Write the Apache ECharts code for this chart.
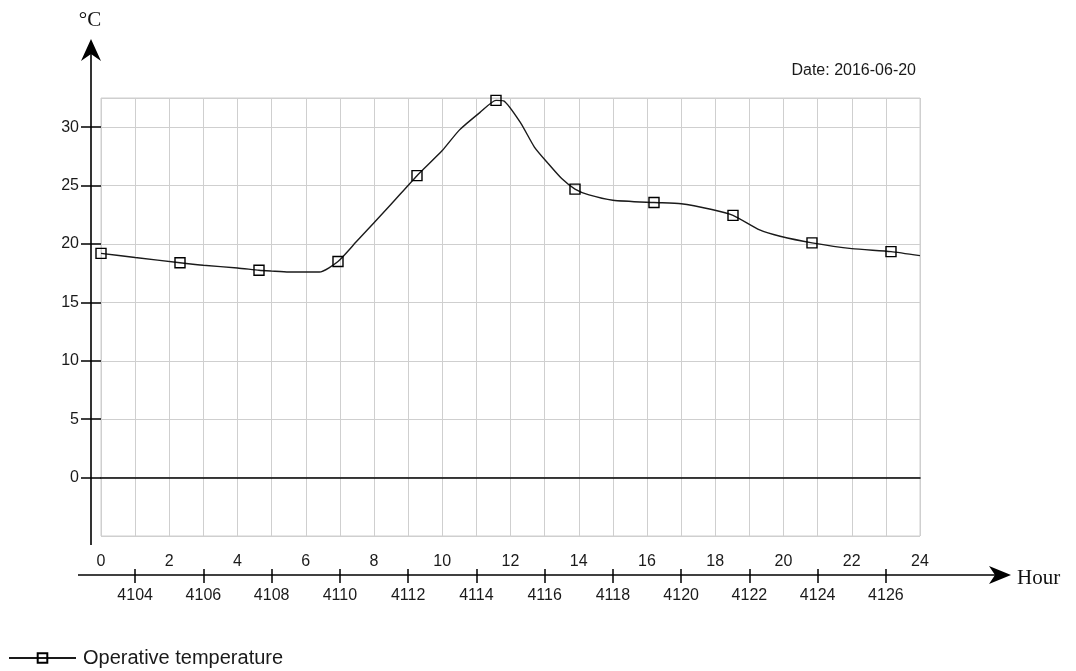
<!DOCTYPE html>
<html>
<head>
<meta charset="utf-8">
<title>Operative temperature</title>
<script src="https://cdn.jsdelivr.net/npm/echarts@6/dist/echarts.min.js"></script>
<style>
  html, body { margin: 0; padding: 0; background: #fff; }
  #chart { width: 1076px; height: 671px; }
</style>
</head>
<body>
<div id="chart"></div>
<script>
// Hourly operative temperature over one day (°C)
const seriesName = 'Operative temperature';
const dateText = 'Date: 2016-06-20';

// Curve readings between the marked samples
const curveHours = [1, 3, 4, 5, 5.5, 6.4, 7.5, 8.5, 10, 10.5, 11.1, 11.8, 12.3, 12.7, 13.1, 13.5, 14.3, 15, 17, 17.9, 19.3, 19.9, 22, 24];
const curveTemps = [18.85, 18.18, 17.95, 17.68, 17.6, 17.6, 20.25, 23.4, 28.0, 29.75, 31.25, 32.25, 30.35, 28.3, 26.9, 25.6, 24.2, 23.75, 23.45, 22.95, 21.2, 20.66, 19.6, 19.0];

// Marked samples (square symbols)
const markerHours = [0, 2.315, 4.63, 6.945, 9.26, 11.575, 13.89, 16.205, 18.52, 20.835, 23.15];
const markerTemps = [19.2, 18.4, 17.75, 18.5, 25.85, 32.3, 24.7, 23.55, 22.45, 20.1, 19.35];

// Axis tick labels
const yTickValues = [0, 5, 10, 15, 20, 25, 30];
const dayHourLabels = [0, 2, 4, 6, 8, 10, 12, 14, 16, 18, 20, 22, 24];
const yearHourLabels = [4104, 4106, 4108, 4110, 4112, 4114, 4116, 4118, 4120, 4122, 4124, 4126];
const yearHourAtDayStart = 4103;

// Layout
const G = { left: 101, right: 920, top: 98, bottom: 536 };
const axisGap = 10;       // y axis line sits left of the plot frame
const xAxisDrop = 39;     // hour axis sits below the plot frame
const textColor = '#1a1a1a';
const sans = 'Liberation Sans, Arial, sans-serif';
const serif = 'Liberation Serif, Times New Roman, serif';

// Merge the curve readings and the marked samples into one line
const points = [];
curveHours.forEach((h, i) => points.push({ value: [h, curveTemps[i]], symbol: 'none' }));
markerHours.forEach((h, i) => points.push({ value: [h, markerTemps[i]] }));
points.sort((a, b) => a.value[0] - b.value[0]);

const yearHourPositions = yearHourLabels.map(v => v - yearHourAtDayStart);

const chart = echarts.init(document.getElementById('chart'), null, { renderer: 'canvas' });

const gridLine = { show: true, lineStyle: { color: '#cfcfcf', width: 1 } };
const hidden = { show: false };

chart.setOption({
  animation: false,
  backgroundColor: '#fff',
  grid: {
    left: G.left, top: G.top, width: G.right - G.left, height: G.bottom - G.top,
    show: true, borderColor: '#cfcfcf', borderWidth: 1, containLabel: false
  },
  legend: {
    left: 8, top: 648, padding: 0, itemWidth: 67, itemHeight: 12, itemGap: 10,
    selectedMode: false,
    textStyle: { fontFamily: sans, fontSize: 20, color: textColor, padding: [0, 0, 0, 2] },
    data: [seriesName]
  },
  xAxis: [
    {
      // vertical grid lines and the zero line
      type: 'value', min: 0, max: 24, interval: 1,
      splitLine: gridLine,
      axisLine: { show: true, onZero: true, lineStyle: { color: '#000', width: 1.5 } },
      axisTick: hidden, axisLabel: hidden
    },
    {
      // hour-of-year ticks (below the line)
      type: 'value', min: 0, max: 24, position: 'bottom', offset: xAxisDrop,
      splitLine: hidden,
      axisLine: { show: false, onZero: false },
      axisTick: { show: true, inside: false, length: 8, customValues: yearHourPositions, lineStyle: { color: '#000', width: 1.5 } },
      axisLabel: {
        show: true, customValues: yearHourPositions, margin: 13,
        formatter: v => String(Math.round(v) + yearHourAtDayStart),
        fontFamily: sans, fontSize: 16, color: textColor
      }
    },
    {
      // hour-of-day labels (above the line)
      type: 'value', min: 0, max: 24, position: 'bottom', offset: xAxisDrop,
      splitLine: hidden,
      axisLine: { show: false, onZero: false },
      axisTick: { show: true, inside: true, length: 6, customValues: yearHourPositions, lineStyle: { color: '#000', width: 1.5 } },
      axisLabel: {
        show: true, inside: true, customValues: dayHourLabels, margin: 5,
        formatter: v => String(v),
        fontFamily: sans, fontSize: 16, color: textColor
      }
    }
  ],
  yAxis: [
    {
      // horizontal grid lines
      type: 'value', min: -5, max: 32.5, interval: 5,
      splitLine: gridLine,
      axisLine: { show: false, onZero: false }, axisTick: hidden, axisLabel: hidden
    },
    {
      // temperature labels and outer ticks
      type: 'value', min: -5, max: 32.5, position: 'left', offset: axisGap,
      splitLine: hidden,
      axisLine: { show: false, onZero: false },
      axisTick: { show: true, inside: false, length: 10, customValues: yTickValues, lineStyle: { color: '#000', width: 1.5 } },
      axisLabel: {
        show: true, customValues: yTickValues, margin: 12,
        fontFamily: sans, fontSize: 16, color: textColor
      }
    },
    {
      // inner half of the temperature ticks
      type: 'value', min: -5, max: 32.5, position: 'left', offset: axisGap,
      splitLine: hidden,
      axisLine: { show: false, onZero: false },
      axisTick: { show: true, inside: true, length: 10, customValues: yTickValues, lineStyle: { color: '#000', width: 1.5 } },
      axisLabel: hidden
    }
  ],
  series: [
    {
      name: seriesName,
      type: 'line',
      xAxisIndex: 0, yAxisIndex: 0,
      data: points,
      smooth: 0.2,
      symbol: 'rect',
      symbolSize: 10,
      showAllSymbol: true,
      lineStyle: { color: '#1a1a1a', width: 1.4 },
      itemStyle: { color: 'rgba(0,0,0,0)', borderColor: '#000', borderWidth: 1.4 },
      emphasis: { disabled: true },
      z: 5
    }
  ]
});

// Axis lines with arrow heads, axis titles and the date note
const yAxisX = G.left - axisGap;
const xAxisY = G.bottom + xAxisDrop;
chart.setOption({
  graphic: [
    { type: 'line', shape: { x1: yAxisX, y1: 44, x2: yAxisX, y2: G.bottom + 9 }, style: { stroke: '#000', lineWidth: 1.6 }, silent: true },
    { type: 'polygon', shape: { points: [[yAxisX, 39], [yAxisX + 10, 61], [yAxisX, 54], [yAxisX - 10, 61]] }, style: { fill: '#000' }, silent: true },
    { type: 'line', shape: { x1: 78, y1: xAxisY, x2: 1002, y2: xAxisY }, style: { stroke: '#000', lineWidth: 1.6 }, silent: true },
    { type: 'polygon', shape: { points: [[1011, xAxisY], [989, xAxisY - 9], [995, xAxisY], [989, xAxisY + 9]] }, style: { fill: '#000' }, silent: true },
    { type: 'text', x: 90, y: 20, style: { text: '°C', font: '21px ' + serif, fill: '#111', align: 'center', verticalAlign: 'middle' }, silent: true },
    { type: 'text', x: 1017, y: 578, style: { text: 'Hour', font: '21px ' + serif, fill: '#111', align: 'left', verticalAlign: 'middle' }, silent: true },
    { type: 'text', x: 916, y: 71, style: { text: dateText, font: '16px ' + sans, fill: textColor, align: 'right', verticalAlign: 'middle' }, silent: true }
  ]
});
</script>
</body>
</html>
